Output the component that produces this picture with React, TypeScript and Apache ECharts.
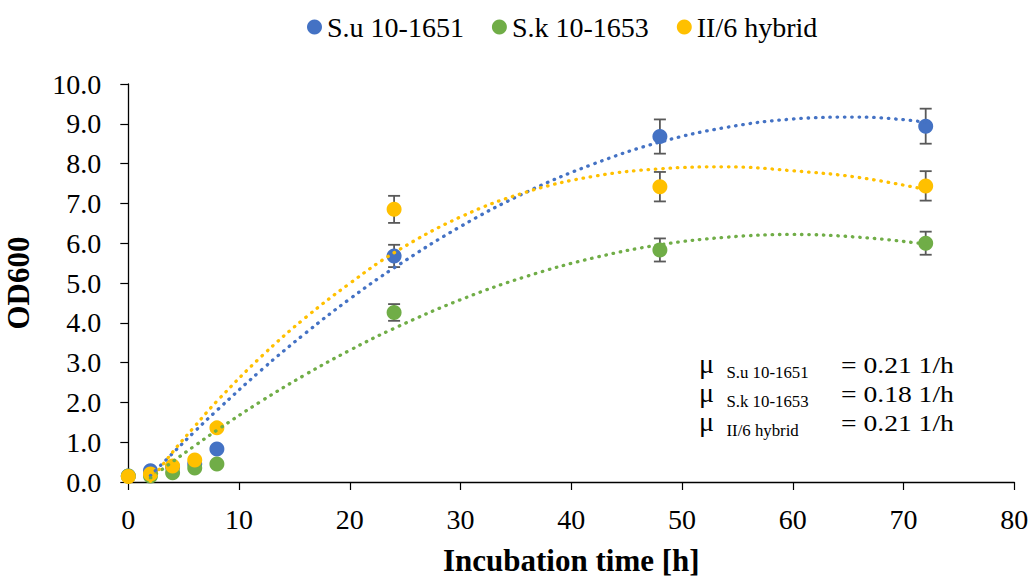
import React, { useEffect, useRef } from "react";
import * as echarts from "echarts";

// ---- data ----
const hours = [0, 2, 4, 6, 8, 24, 48, 72];
const seriesNames = ["S.u 10-1651", "S.k 10-1653", "II/6 hybrid"];
const colors = ["#4472C4", "#70AD47", "#FFC000"];
const suValues = [0.15, 0.28, 0.38, 0.45, 0.83, 5.68, 8.68, 8.94];
const skValues = [0.15, 0.15, 0.23, 0.35, 0.45, 4.26, 5.83, 6.0];
const hybValues = [0.14, 0.2, 0.4, 0.55, 1.36, 6.85, 7.42, 7.44];
const suErr = [0.02, 0.03, 0.03, 0.04, 0.06, 0.28, 0.43, 0.44];
const skErr = [0.02, 0.02, 0.02, 0.03, 0.04, 0.21, 0.29, 0.29];
const hybErr = [0.02, 0.02, 0.03, 0.05, 0.08, 0.34, 0.37, 0.37];

// dotted trendlines, values
const trendHours = [2, 4, 6, 8, 12, 16, 20, 24, 30, 36, 42, 48, 54, 60, 66, 72];
const suTrend = [0.16, 0.72, 1.27, 1.8, 2.81, 3.74, 4.6, 5.38, 6.42, 7.29, 7.99, 8.54, 8.91, 9.12, 9.17, 9.04];
const skTrend = [0.1, 0.51, 0.91, 1.3, 2.03, 2.7, 3.31, 3.86, 4.58, 5.17, 5.63, 5.96, 6.15, 6.22, 6.15, 5.98];
const hybTrend = [0.02, 0.75, 1.4, 2.03, 3.15, 4.13, 4.99, 5.76, 6.66, 7.29, 7.68, 7.87, 7.92, 7.82, 7.65, 7.35];

const muLabels = ["S.u 10-1651", "S.k 10-1653", "II/6 hybrid"];
const muValues = [0.21, 0.18, 0.21];
const xTicks = { min: 0, max: 80, interval: 10 };
const yTicks = { min: 0, max: 10, interval: 1 };

const FONT = '"Liberation Serif", "Times New Roman", serif';

export default function App() {
  const ref = useRef<HTMLDivElement>(null);

  useEffect(() => {
    if (!ref.current) return;
    const chart = echarts.init(ref.current, null, { renderer: "svg" });
    const allValues = [suValues, skValues, hybValues];
    const allErr = [suErr, skErr, hybErr];
    const allTrend = [suTrend, skTrend, hybTrend];

    const series: any[] = [];
    allValues.forEach((vals, si) => {
      series.push({
        name: "err" + si,
        type: "custom",
        z: 1,
        silent: true,
        data: hours.map((h, i) => [h, vals[i] - allErr[si][i], vals[i] + allErr[si][i]]),
        renderItem: (params: any, api: any) => {
          const lo = api.coord([api.value(0), api.value(1)]);
          const hi = api.coord([api.value(0), api.value(2)]);
          const style = { stroke: "#595959", lineWidth: 1.8 };
          const cw = 6;
          return {
            type: "group",
            children: [
              { type: "line", shape: { x1: lo[0], y1: lo[1], x2: hi[0], y2: hi[1] }, style },
              { type: "line", shape: { x1: lo[0] - cw, y1: lo[1], x2: lo[0] + cw, y2: lo[1] }, style },
              { type: "line", shape: { x1: hi[0] - cw, y1: hi[1], x2: hi[0] + cw, y2: hi[1] }, style },
            ],
          };
        },
      });
    });
    allValues.forEach((vals, si) => {
      series.push({
        name: seriesNames[si],
        type: "scatter",
        z: 2,
        symbol: "circle",
        symbolSize: 15,
        itemStyle: { color: colors[si], opacity: 1 },
        data: hours.map((h, i) => [h, vals[i]]),
      });
    });
    allTrend.forEach((vals, si) => {
      series.push({
        name: "trend" + si,
        type: "line",
        z: 3,
        silent: true,
        showSymbol: false,
        symbol: "none",
        smooth: 0.4,
        clip: true,
        lineStyle: { color: colors[si], width: 3.3, type: [0.5, 6.8], cap: "round" },
        data: trendHours.map((h, i) => [h, vals[i]]),
      });
    });

    const graphics: any[] = [];
    muLabels.forEach((lab, i) => {
      const dy = 29 * i;
      graphics.push({
        type: "text",
        x: 699,
        y: 363 + dy,
        style: {
          text: "\u03bc",
          fontSize: 28,
          lineHeight: 26,
          fontFamily: FONT,
          fill: "#000",
          verticalAlign: "middle",
        },
      });
      graphics.push({
        type: "text",
        x: 726.5,
        y: 372.5 + dy,
        scaleX: 1.05,
        style: { text: lab, fontSize: 16, fontFamily: FONT, fill: "#000", verticalAlign: "middle" },
      });
      graphics.push({
        type: "text",
        x: 841,
        y: 364.5 + dy,
        scaleX: 1.2,
        style: {
          text: "= " + muValues[i].toFixed(2) + " 1/h",
          fontSize: 23,
          fontFamily: FONT,
          fill: "#000",
          verticalAlign: "middle",
        },
      });
    });

    chart.setOption({
      animation: false,
      backgroundColor: "#fff",
      textStyle: { fontFamily: FONT },
      legend: {
        data: seriesNames,
        icon: "circle",
        itemWidth: 15,
        itemHeight: 15,
        itemGap: 28,
        left: 302,
        top: 8,
        textStyle: { fontSize: 28, fontFamily: FONT, color: "#000" },
      },
      grid: {
        left: 128.3,
        right: 15.7,
        top: 84,
        bottom: 95,
        containLabel: false,
        outerBoundsMode: "none",
      },
      xAxis: {
        type: "value",
        min: xTicks.min,
        max: xTicks.max,
        interval: xTicks.interval,
        name: "Incubation time [h]",
        nameLocation: "middle",
        nameGap: 63,
        nameTextStyle: { fontSize: 31, fontWeight: "bold", fontFamily: FONT, color: "#000" },
        axisLine: { onZero: false, lineStyle: { color: "#000", width: 1.3 } },
        axisTick: { show: true, inside: false, length: 8, lineStyle: { color: "#000", width: 1.2 } },
        axisLabel: { fontSize: 28, fontFamily: FONT, color: "#000", margin: 23 },
        splitLine: { show: false },
      },
      yAxis: {
        type: "value",
        min: yTicks.min,
        max: yTicks.max,
        interval: yTicks.interval,
        name: "OD600",
        nameLocation: "middle",
        nameRotate: 90,
        nameGap: 94,
        nameTextStyle: { fontSize: 31, fontWeight: "bold", fontFamily: FONT, color: "#000" },
        axisLine: { show: true, lineStyle: { color: "#000", width: 1.3 } },
        axisTick: { show: true, inside: false, length: 8, lineStyle: { color: "#000", width: 1.2 } },
        axisLabel: {
          fontSize: 28,
          fontFamily: FONT,
          color: "#000",
          margin: 27,
          formatter: (v: number) => v.toFixed(1),
        },
        splitLine: { show: false },
      },
      graphic: graphics,
      series,
    });
    return () => chart.dispose();
  }, []);

  return (
    <div
      ref={ref}
      style={{ position: "fixed", left: 0, top: 0, width: 1030, height: 577, background: "#fff" }}
    />
  );
}
